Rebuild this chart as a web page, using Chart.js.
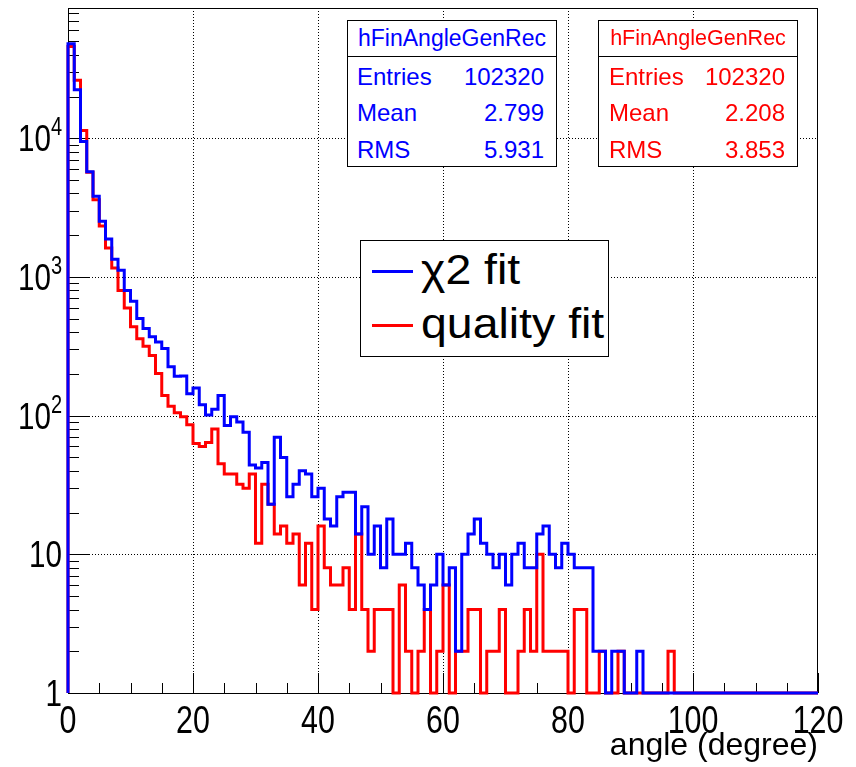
<!DOCTYPE html>
<html>
<head>
<meta charset="utf-8">
<script src="https://cdn.jsdelivr.net/npm/chart.js@4/dist/chart.umd.min.js"></script>
<style>
html,body{margin:0;padding:0;background:#fff;}
#wrap{position:relative;width:856px;height:767px;overflow:hidden;background:#fff;}
#c{position:absolute;left:0;top:0;}
.box{position:absolute;background:#fff;border:1px solid #000;box-sizing:border-box;font-family:"Liberation Sans",Arial,Helvetica,sans-serif;}
.t{position:absolute;white-space:nowrap;line-height:1;}
.hl{position:absolute;left:0;right:0;height:0;border-top:1px solid #000;}
.ls{position:absolute;height:3px;}
</style>
</head>
<body>
<div id="wrap"><canvas id="c" width="856" height="767"></canvas></div>
<script>
// ---------------- data ----------------
const xMin = 0, xMax = 120, binWidth = 1;
const seriesNames = ['\u03c72 fit', 'quality fit'];
const seriesColors = ['#0000ff', '#ff0000'];
const histName = 'hFinAngleGenRec';
const statLabels = ['Entries', 'Mean', 'RMS'];
const chi2Stats = ['102320', '2.799', '5.931'];
const qualityStats = ['102320', '2.208', '3.853'];

// counts per 1-degree bin, 0..119 (chi2 fit)
const chi2Counts = [
  48000, 22400, 9500, 5730, 3820, 2520, 1880, 1340, 1120, 800,
  668, 501, 425, 370, 340, 305, 225, 192, 193, 144,
  158, 120, 101, 111, 140, 85, 98, 90, 76, 44,
  42, 46, 23, 70, 50, 26, 32, 40, 38, 26,
  30, 18, 16, 26, 28, 28, 14, 22, 10, 16,
  8, 18, 10, 10, 12, 8, 6, 4, 6, 10,
  6, 8, 2, 10, 14, 18, 12, 10, 8, 10,
  6, 10, 12, 8, 8, 14, 16, 10, 8, 12,
  10, 8, 8, 8, 2, 2, 0, 2, 2, 0,
  0, 2, 0, 0, 0, 0, 0, 0, 0, 0,
  0, 0, 0, 0, 0, 0, 0, 0, 0, 0,
  0, 0, 0, 0, 0, 0, 0, 0, 0, 0
];
// counts per 1-degree bin, 0..119 (quality fit)
const qualityCounts = [
  46000, 26200, 11400, 5700, 3600, 2330, 1620, 1160, 800, 598,
  437, 358, 316, 271, 201, 140, 117, 105, 98, 86,
  63, 60, 64, 80, 45, 38, 38, 32, 30, 38,
  12, 32, 23, 14, 16, 12, 14, 6, 12, 4,
  16, 8, 6, 6, 8, 4, 14, 4, 2, 4,
  4, 4, 0, 6, 2, 0, 2, 4, 0, 2,
  6, 0, 2, 2, 4, 4, 0, 2, 2, 4,
  0, 0, 2, 4, 2, 10, 2, 2, 2, 2,
  0, 4, 4, 0, 0, 2, 0, 0, 2, 0,
  0, 0, 0, 0, 0, 0, 2, 0, 0, 0,
  0, 0, 0, 0, 0, 0, 0, 0, 0, 0,
  0, 0, 0, 0, 0, 0, 0, 0, 0, 0
];

const xTickValues = [0, 20, 40, 60, 80, 100, 120];
const xTickLabels = ['0', '20', '40', '60', '80', '100', '120'];
const xMinorStep = 5;
const yMin = 1, yMax = 87000;
const yTickValues = [1, 10, 100, 1000, 10000];
const yTickBase = ['1', '10', '10', '10', '10'];
const yTickExp = ['', '', '2', '3', '4'];
const xTitle = 'angle (degree)';

// ---------------- build ----------------
const FONT = '"Liberation Sans", Arial, Helvetica, sans-serif';
const binEdges = [];
for (let i = 0; i < chi2Counts.length; i++) binEdges.push(xMin + i * binWidth);

function histPoints(counts) {
  const pts = [{x: xMin, y: yMin}];
  counts.forEach((c, i) => pts.push({x: binEdges[i], y: c > 0 ? c : yMin}));
  const last = counts[counts.length - 1];
  pts.push({x: xMax, y: last > 0 ? last : yMin});
  return pts;
}

function narrowText(ctx, text, x, y, size, sx, align) {
  ctx.save();
  ctx.font = size + 'px ' + FONT;
  ctx.translate(x, y);
  ctx.scale(sx, 1);
  ctx.textAlign = align;
  ctx.textBaseline = 'alphabetic';
  ctx.fillText(text, 0, 0);
  const w = ctx.measureText(text).width * sx;
  ctx.restore();
  return w;
}

const rootAxes = {
  id: 'rootAxes',
  beforeDatasetsDraw(chart) {
    const {ctx, chartArea: a, scales: {x, y}} = chart;
    ctx.save();
    ctx.strokeStyle = '#000';
    ctx.lineWidth = 1;
    ctx.setLineDash([1, 2]);
    ctx.beginPath();
    xTickValues.forEach(v => {
      if (v <= xMin || v >= xMax) return;
      const px = Math.round(x.getPixelForValue(v)) + 0.5;
      ctx.moveTo(px, a.top); ctx.lineTo(px, a.bottom);
    });
    yTickValues.forEach(v => {
      if (v <= yMin || v >= yMax) return;
      const py = Math.round(y.getPixelForValue(v)) + 0.5;
      ctx.moveTo(a.left, py); ctx.lineTo(a.right, py);
    });
    ctx.stroke();
    ctx.setLineDash([]);
    ctx.strokeRect(a.left + 0.5, a.top + 0.5, a.right - a.left - 1, a.bottom - a.top);
    ctx.beginPath();
    for (let v = xMin; v <= xMax; v += xMinorStep) {
      const px = Math.round(x.getPixelForValue(v)) + 0.5;
      const len = xTickValues.includes(v) ? 20 : 10;
      ctx.moveTo(px, a.bottom); ctx.lineTo(px, a.bottom - len);
    }
    for (let d = 1; d <= yMax; d *= 10) {
      for (let m = 1; m <= 9; m++) {
        const v = d * m;
        if (v < yMin || v > yMax) continue;
        const py = Math.round(y.getPixelForValue(v)) + 0.5;
        const len = m === 1 ? 22 : 11;
        ctx.moveTo(a.left, py); ctx.lineTo(a.left + len, py);
      }
    }
    ctx.stroke();
    ctx.restore();
  },
  afterDraw(chart) {
    const {ctx, chartArea: a, scales: {x, y}} = chart;
    ctx.save();
    ctx.fillStyle = '#000';
    // x tick labels
    xTickValues.forEach((v, i) => {
      narrowText(ctx, xTickLabels[i], x.getPixelForValue(v), a.bottom + 40, 38, 0.8, 'center');
    });
    // y tick labels
    yTickValues.forEach((v, i) => {
      const py = y.getPixelForValue(v);
      let r = a.left - 6;
      if (yTickExp[i]) {
        r -= narrowText(ctx, yTickExp[i], r, py - 3, 25, 0.8, 'right');
      }
      narrowText(ctx, yTickBase[i], r, py + 13, 37, 0.8, 'right');
    });
    ctx.restore();
  }
};

const chart = new Chart(document.getElementById('c'), {
  type: 'line',
  data: {
    datasets: [
      {label: seriesNames[0], data: histPoints(chi2Counts), borderColor: seriesColors[0], borderWidth: 3, order: 0},
      {label: seriesNames[1], data: histPoints(qualityCounts), borderColor: seriesColors[1], borderWidth: 3, order: 1}
    ]
  },
  options: {
    responsive: false,
    devicePixelRatio: 1,
    animation: false,
    layout: {padding: {left: 0, right: 38, top: 8, bottom: 0}},
    elements: {
      point: {radius: 0, hoverRadius: 0},
      line: {stepped: 'before', tension: 0, fill: false, borderJoinStyle: 'miter', borderCapStyle: 'butt'}
    },
    datasets: {line: {clip: 5}},
    plugins: {legend: {display: false}, tooltip: {enabled: false}, title: {display: false}},
    scales: {
      x: {
        type: 'linear', min: xMin, max: xMax,
        afterFit(s) { s.height = 74; },
        afterBuildTicks(s) { s.ticks = xTickValues.map(v => ({value: v})); },
        grid: {display: false, drawTicks: false},
        border: {display: false},
        ticks: {display: false},
        title: {display: true, text: xTitle, align: 'end', color: '#000', font: {family: FONT, size: 32}, padding: {top: 0, bottom: 2}}
      },
      y: {
        type: 'logarithmic', min: yMin, max: yMax,
        afterFit(s) { s.width = 68; },
        afterBuildTicks(s) { s.ticks = yTickValues.map(v => ({value: v})); },
        grid: {display: false, drawTicks: false},
        border: {display: false},
        ticks: {display: false}
      }
    }
  },
  plugins: [rootAxes]
});

// ---------------- stats boxes & legend (HTML overlays) ----------------
const wrap = document.getElementById('wrap');
function el(cls, style, text, parent) {
  const d = document.createElement('div');
  d.className = cls;
  Object.assign(d.style, style);
  if (text !== undefined) d.textContent = text;
  (parent || wrap).appendChild(d);
  return d;
}
function statBox(left, top, w, h, color, titleSize, values, padL, padR) {
  const b = el('box', {left: left + 'px', top: top + 'px', width: w + 'px', height: h + 'px', color: color});
  el('t', {left: '0', right: '0', textAlign: 'center', top: (25 - 0.8465 * titleSize) + 'px', fontSize: titleSize + 'px'}, histName, b);
  el('hl', {top: '35px'}, undefined, b);
  const base = [64, 100, 137];
  statLabels.forEach((lab, i) => {
    el('t', {left: padL + 'px', top: (base[i] - 0.8465 * 24) + 'px', fontSize: '24px'}, lab, b);
    el('t', {right: padR + 'px', top: (base[i] - 0.8465 * 24) + 'px', fontSize: '24px', textAlign: 'right'}, values[i], b);
  });
}
statBox(347, 20, 210, 147, seriesColors[0], 23, chi2Stats, 9, 12);
statBox(598, 20, 200, 147, seriesColors[1], 21.5, qualityStats, 10, 12);

const leg = el('box', {left: '360px', top: '240px', width: '249px', height: '117px', color: '#000'});
const legBase = [43, 97];
seriesNames.forEach((n, i) => {
  el('ls', {left: '11px', width: '41px', top: (legBase[i] - 14) + 'px', background: seriesColors[i]}, undefined, leg);
  const t = el('t', {left: '60px', top: (legBase[i] - 0.8465 * 43) + 'px', fontSize: '43px', transformOrigin: '0 0', transform: 'scaleX(1.08)'}, n, leg);
});
</script>
</body>
</html>
